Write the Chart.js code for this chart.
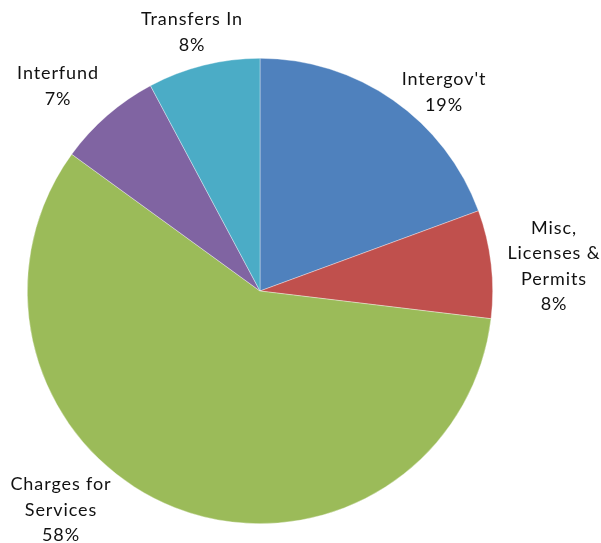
<!DOCTYPE html>
<html>
<head>
<meta charset="utf-8">
<script src="https://cdn.jsdelivr.net/npm/chart.js@4"></script>
<style>
  html, body { margin:0; padding:0; background:#fff; }
  #wrap { width:601px; height:543px; position:relative; }
</style>
</head>
<body>
<div id="wrap"><canvas id="pie"></canvas></div>
<script>
// slices, clockwise from 12 o'clock
const categories = [['Intergov\'t'], ['Misc,', 'Licenses &', 'Permits'], ['Charges for', 'Services'], ['Interfund'], ['Transfers In']];
const shares     = [19.4, 7.5, 58.1, 7.2, 7.8];
const colors     = ['#4F81BD', '#C0504D', '#9BBB59', '#8064A2', '#4BACC6'];

// where each label block is centred, relative to the pie centre
const labelOffsets = [[184, -199], [294, -25], [-199, 219], [-202, -205], [-68, -259]];

const total = shares.reduce((a, b) => a + b, 0);

const outsideLabels = {
  id: 'outsideLabels',
  afterDatasetsDraw(chart){
    const ctx = chart.ctx;
    const arcs = chart.getDatasetMeta(0).data;
    ctx.save();
    ctx.font = '18px Lato, "Open Sans", sans-serif';
    ctx.letterSpacing = '0.9px';
    ctx.fillStyle = '#111';
    ctx.textAlign = 'center';
    ctx.textBaseline = 'middle';
    const lh = 25.5;
    arcs.forEach((arc, i) => {
      const lines = categories[i].concat([Math.round(shares[i] / total * 100) + '%']);
      const cx = arc.x + labelOffsets[i][0];
      const cy = arc.y + labelOffsets[i][1];
      const top = cy - (lines.length - 1) * lh / 2;
      lines.forEach((t, k) => ctx.fillText(t, cx, top + k * lh));
    });
    ctx.restore();
  }
};

new Chart(document.getElementById('pie'), {
  type: 'pie',
  data: {
    labels: categories.map(c => c.join(' ')),
    datasets: [{
      data: shares,
      backgroundColor: colors,
      borderWidth: 0.6,
      borderColor: 'rgba(255,255,255,0.6)'
    }]
  },
  options: {
    responsive: true,
    maintainAspectRatio: false,
    animation: false,
    layout: { padding: { left: 27, right: 108, top: 58, bottom: 19 } },
    plugins: { legend: { display: false }, tooltip: { enabled: false } }
  },
  plugins: [outsideLabels]
});
</script>
</body>
</html>
